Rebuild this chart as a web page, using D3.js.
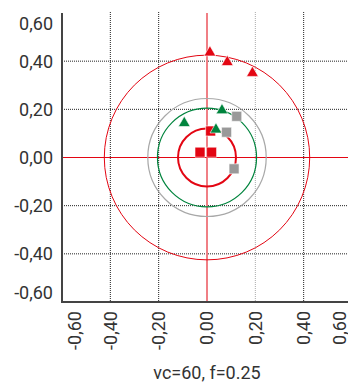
<!DOCTYPE html>
<html>
<head>
<meta charset="utf-8">
<script src="https://cdn.jsdelivr.net/npm/d3@7"></script>
<style>
  body { margin: 0; background: #fff; }
  text { font-family: Roboto, sans-serif; fill: #333; }
</style>
</head>
<body>
<div class="chart"></div>
<script>
const width = 348
const height = 383

// data
const ticks = [-0.6, -0.4, -0.2, 0, 0.2, 0.4, 0.6]
const redTriangles = [[0.012, 0.44], [0.084, 0.40], [0.188, 0.355]]
const greenTriangles = [[0.062, 0.20], [-0.094, 0.147], [0.037, 0.12]]
const graySquares = [[0.123, 0.171], [0.081, 0.105], [0.112, -0.047]]
const redSquares = [[-0.029, 0.022], [0.019, 0.022], [0.015, 0.11]]
const rings = [
  {r: 0.425, color: '#e30613', w: 1},
  {r: 0.245, color: '#a8a8a8', w: 1.2},
  {r: 0.205, color: '#00843d', w: 1.2},
  {r: 0.12, color: '#e30613', w: 2}
]
const title = 'vc=60, f=0.25'

const RED = '#e30613'
const GREEN = '#00843d'
const GRAY = '#999999'

const loc = d3.formatLocale({decimal: ',', thousands: '.', grouping: [3], currency: ['', ''], minus: '-'})
const fmt = loc.format('.2f')

const x = d3.scaleLinear().domain([-0.6, 0.6]).range([62, 352])
const y = d3.scaleLinear().domain([-0.6, 0.6]).range([302, 13])

const svg = d3.select('.chart')
  .append('svg')
  .attr('width', width)
  .attr('height', height)

// grid
const grid = svg.append('g')
grid.selectAll('line.v')
  .data(ticks.filter(t => t !== 0 && t !== -0.6))
  .enter().append('line')
    .attr('x1', d => x(d)).attr('x2', d => x(d))
    .attr('y1', y(0.6) - 1).attr('y2', y(-0.6))
    .attr('stroke', d => Math.abs(d - 0.2) < 1e-6 ? '#aaa' : '#222')
    .attr('stroke-width', 1)
    .attr('stroke-dasharray', '1,1')
grid.selectAll('line.h')
  .data(ticks.filter(t => t !== 0 && Math.abs(t) < 0.6))
  .enter().append('line')
    .attr('x1', x(-0.6)).attr('x2', width)
    .attr('y1', d => y(d)).attr('y2', d => y(d))
    .attr('stroke', '#222')
    .attr('stroke-width', 1)
    .attr('stroke-dasharray', '1,1')

// zero lines
svg.append('line')
  .attr('x1', x(0)).attr('x2', x(0))
  .attr('y1', y(0.6)).attr('y2', y(-0.6))
  .attr('stroke', '#f07f85').attr('stroke-width', 2)
svg.append('line')
  .attr('x1', x(-0.6)).attr('x2', width)
  .attr('y1', y(0)).attr('y2', y(0))
  .attr('stroke', RED).attr('stroke-width', 1)

// rings
svg.append('g').selectAll('ellipse')
  .data(rings)
  .enter().append('ellipse')
    .attr('cx', x(0)).attr('cy', y(0))
    .attr('rx', d => x(d.r) - x(0))
    .attr('ry', d => y(0) - y(d.r))
    .attr('fill', 'none')
    .attr('stroke', d => d.color)
    .attr('stroke-width', d => d.w)

// axes lines
svg.append('line')
  .attr('x1', x(-0.6)).attr('x2', x(-0.6))
  .attr('y1', y(0.6)).attr('y2', y(-0.6) + 1)
  .attr('stroke', '#444').attr('stroke-width', 2)
svg.append('line')
  .attr('x1', x(-0.6)).attr('x2', width)
  .attr('y1', y(-0.6)).attr('y2', y(-0.6))
  .attr('stroke', '#444').attr('stroke-width', 2)

// markers
const tri = d3.symbol().type(d3.symbolTriangle).size(60)
const sq = d3.symbol().type(d3.symbolSquare).size(100)

function drawPts(data, gen, color, dy) {
  svg.append('g').selectAll('path')
    .data(data)
    .enter().append('path')
      .attr('d', gen)
      .attr('transform', d => `translate(${x(d[0])},${y(d[1]) + dy})`)
      .attr('fill', color)
      .attr('stroke', '#fff')
      .attr('stroke-width', 0.6)
}
drawPts(redSquares, sq, RED, 0)
drawPts(greenTriangles, tri, GREEN, 1)
drawPts(graySquares, sq, GRAY, 0)
drawPts(redTriangles, tri, RED, 1)

// tick labels (edge labels are pushed inward)
svg.append('g').selectAll('text')
  .data(ticks)
  .enter().append('text')
    .attr('x', 53)
    .attr('y', d => y(d) + (d === 0.6 ? 11 : d === -0.6 ? -9 : 0))
    .attr('dy', '0.36em')
    .attr('text-anchor', 'end')
    .attr('font-size', 18)
    .text(d => fmt(d))

svg.append('g').selectAll('text')
  .data(ticks)
  .enter().append('text')
    .attr('transform', d => {
      const px = x(d) + (d === -0.6 ? 13 : d === 0.6 ? -12 : 0)
      return `translate(${px},311) rotate(-90)`
    })
    .attr('dy', '0.36em')
    .attr('text-anchor', 'end')
    .attr('font-size', 18)
    .text(d => fmt(d))

svg.append('text')
  .attr('x', x(0))
  .attr('y', 373)
  .attr('dy', '0.36em')
  .attr('text-anchor', 'middle')
  .attr('font-size', 18)
  .text(title)
</script>
</body>
</html>
